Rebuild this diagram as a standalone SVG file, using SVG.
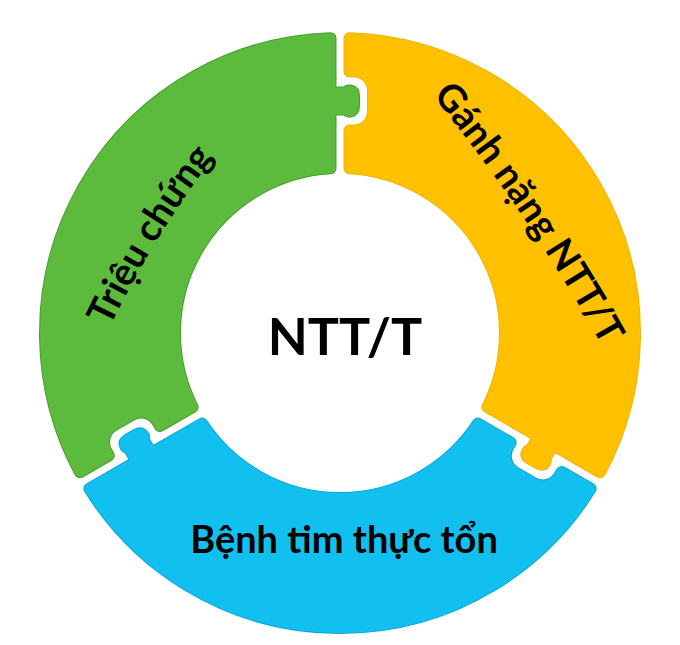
<svg xmlns="http://www.w3.org/2000/svg" xmlns:xlink="http://www.w3.org/1999/xlink" width="680" height="645" viewBox="0 0 680 645">
<style>
.lbl{font-family:Lato,"Open Sans","Noto Sans",sans-serif;font-weight:bold;fill:#000;}
.edge{stroke-width:12;stroke-linejoin:round;}
.body{stroke-width:10;stroke-linejoin:round;}
</style>
<defs>
<path id="piece" d="M155.65,-250.59 A295,295 0 0 1 155.65,250.59 L128.48,203.52 L115.05,211.27 C114.82,214.87 109.63,217.87 106.38,212.24 L101.38,203.58 C98.13,197.95 103.32,194.95 106.55,196.55 L119.98,188.80 L90.59,137.91 A165,165 0 0 0 90.59,-137.91 L109.48,-170.62 L113.37,-168.37 A19,19 0 0 0 139.33,-175.32 L149.83,-193.51 A19,19 0 0 0 142.87,-219.46 L138.98,-221.71 Z"/>
<path id="tp-green" d="M110,327 Q153,237 214,157"/>
<path id="tp-orange" d="M437,101 Q528,214 599,340"/>
</defs>
<rect width="680" height="645" fill="#fff"/>
<g id="piece-green">
<use xlink:href="#piece" class="edge" transform="translate(340,333) rotate(210)" fill="#4a9e2e" stroke="#4a9e2e"/>
<use xlink:href="#piece" class="body" transform="translate(340,333) rotate(210)" fill="#5cbb3c" stroke="#5cbb3c"/>
<text class="lbl" font-size="38"><textPath xlink:href="#tp-green" startOffset="50%" text-anchor="middle">Triệu chứng</textPath></text>
</g>
<g id="piece-orange">
<use xlink:href="#piece" class="edge" transform="translate(340,333) rotate(330)" fill="#f2b400" stroke="#f2b400"/>
<use xlink:href="#piece" class="body" transform="translate(340,333) rotate(330)" fill="#ffc000" stroke="#ffc000"/>
<text class="lbl" font-size="38"><textPath xlink:href="#tp-orange" startOffset="50%" text-anchor="middle">Gánh nặng NTT/T</textPath></text>
</g>
<g id="piece-blue">
<use xlink:href="#piece" class="edge" transform="translate(340,333) rotate(90)" fill="#08a8d8" stroke="#08a8d8"/>
<use xlink:href="#piece" class="body" transform="translate(340,333) rotate(90)" fill="#12c0f0" stroke="#12c0f0"/>
<text class="lbl" font-size="38" x="344" y="553" text-anchor="middle">Bệnh tim thực tổn</text>
</g>
<g id="center">
<text class="lbl" font-size="52" x="345" y="355" text-anchor="middle">NTT/T</text>
</g>
<g id="connectors"/>
</svg>
